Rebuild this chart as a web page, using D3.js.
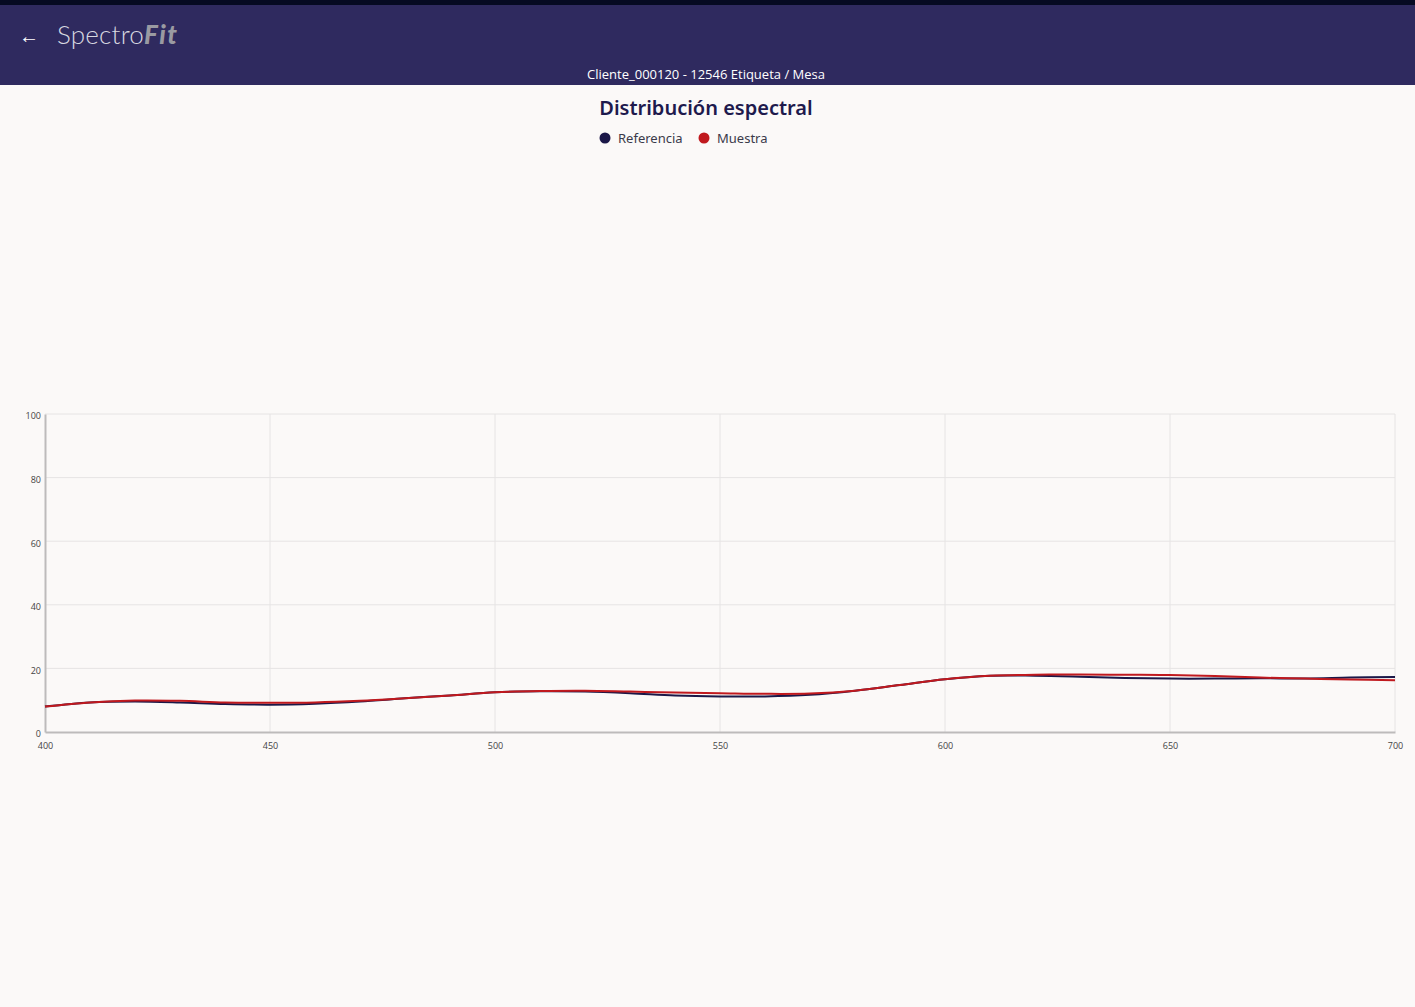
<!DOCTYPE html>
<html>
<head>
<meta charset="utf-8">
<script src="https://cdn.jsdelivr.net/npm/d3@7"></script>
<style>
  html, body { margin: 0; padding: 0; background: #fbf9f8; width: 1415px; height: 1007px; overflow: hidden; }
  svg { display: block; font-family: "Open Sans", "Noto Sans", sans-serif; }
</style>
</head>
<body>
<svg id="chart"></svg>
<script>
// longitudes de onda (nm)
const wavelengths = [400, 410, 420, 430, 440, 450, 460, 470, 480, 490, 500, 510, 520, 530, 540, 550, 560, 570, 580, 590, 600, 610, 620, 630, 640, 650, 660, 670, 680, 690, 700];
const referencia = [8.0, 9.3, 9.6, 9.3, 8.8, 8.6, 8.9, 9.6, 10.6, 11.5, 12.5, 12.8, 12.7, 12.2, 11.5, 11.2, 11.2, 11.7, 13.0, 14.8, 16.6, 17.7, 17.7, 17.4, 17.0, 16.8, 16.8, 16.9, 16.8, 17.1, 17.3];
const muestra = [8.0, 9.3, 9.9, 9.8, 9.3, 9.2, 9.3, 9.8, 10.6, 11.5, 12.5, 12.9, 13.0, 12.7, 12.4, 12.2, 12.0, 12.1, 13.0, 14.8, 16.6, 17.7, 18.0, 18.1, 18.0, 17.9, 17.6, 17.1, 16.8, 16.5, 16.3];
const xTicks = [400, 450, 500, 550, 600, 650, 700];
const yTicks = [0, 20, 40, 60, 80, 100];
const seriesInfo = [
  { name: "Referencia", values: referencia, color: "#1b1848" },
  { name: "Muestra", values: muestra, color: "#c0191e" }
];

const W = 1415, H = 1007;
const margin = { top: 414, right: 20, bottom: 275, left: 45 };
const svg = d3.select("#chart").attr("width", W).attr("height", H);

// cabecera
svg.append("rect").attr("x", 0).attr("y", 0).attr("width", W).attr("height", 85).attr("fill", "#2f2a5f");
svg.append("rect").attr("x", 0).attr("y", 0).attr("width", W).attr("height", 5).attr("fill", "#060a22");
svg.append("text").attr("x", 29).attr("y", 43).attr("text-anchor", "middle")
  .attr("fill", "#ffffff").style("font-size", "20px").text("←");
const logo = svg.append("text").attr("x", 57).attr("y", 44).style("font-size", "26px");
logo.append("tspan").attr("fill", "#d8d8e0").style("font-weight", "300")
  .style("font-family", "'Lato', sans-serif").attr("letter-spacing", "0.2").text("Spectro");
logo.append("tspan").attr("fill", "#9a9aa2").style("font-weight", "900").style("font-style", "italic")
  .style("font-family", "'Lato', sans-serif").attr("letter-spacing", "1.5").text("Fit");
svg.append("text").attr("x", 706).attr("y", 79).attr("text-anchor", "middle")
  .attr("fill", "#ffffff").style("font-size", "13px").text("Cliente_000120 - 12546 Etiqueta / Mesa");

// titulo y leyenda
svg.append("text").attr("x", 706).attr("y", 115).attr("text-anchor", "middle")
  .attr("fill", "#1e1a4d").style("font-size", "20px").style("font-weight", "600")
  .style("font-family", "'Noto Sans', sans-serif").text("Distribución espectral");
const legendX = [605, 704];
const legend = svg.append("g").selectAll("g").data(seriesInfo).join("g")
  .attr("transform", (d, i) => `translate(${legendX[i]}, 138)`);
legend.append("circle").attr("r", 5.5).attr("fill", d => d.color);
legend.append("text").attr("x", 13).attr("dy", "0.35em").attr("fill", "#3a3a4a")
  .style("font-size", "13px").style("font-family", "'Noto Sans', sans-serif").text(d => d.name);

// escalas
const x = d3.scaleLinear().domain([400, 700]).range([margin.left, 1395]);
const y = d3.scaleLinear().domain([0, 100]).range([732, margin.top]);

// rejilla
svg.append("g").selectAll("line").data(xTicks.slice(1)).join("line")
  .attr("x1", d => x(d)).attr("x2", d => x(d)).attr("y1", y(0)).attr("y2", y(100))
  .attr("stroke", "#e6e4e4").attr("stroke-width", 1);
svg.append("g").selectAll("line").data(yTicks.slice(1)).join("line")
  .attr("x1", x(400)).attr("x2", x(700)).attr("y1", d => y(d)).attr("y2", d => y(d))
  .attr("stroke", "#e6e4e4").attr("stroke-width", 1);

// ejes
const xAxis = svg.append("g").attr("transform", `translate(0, ${y(0)})`)
  .call(d3.axisBottom(x).tickValues(xTicks).tickSize(0).tickPadding(11));
const yAxis = svg.append("g").attr("transform", `translate(${x(400)}, 0)`)
  .call(d3.axisLeft(y).tickValues(yTicks).tickSize(0).tickPadding(4));
[xAxis, yAxis].forEach(a => {
  a.select(".domain").attr("stroke", "#bdbbbb").attr("stroke-width", 2);
  a.selectAll("text").attr("fill", "#444").style("font-size", "9px").style("font-family", "'Open Sans', sans-serif");
});
yAxis.selectAll("text").attr("dy", "0.55em");

// lineas
const line = d3.line()
  .x((d, i) => x(wavelengths[i]))
  .y(d => y(d))
  .curve(d3.curveCatmullRom.alpha(0.5));
svg.append("g").selectAll("path").data(seriesInfo).join("path")
  .attr("d", d => line(d.values))
  .attr("fill", "none")
  .attr("stroke", d => d.color)
  .attr("stroke-width", 2);
</script>
</body>
</html>
